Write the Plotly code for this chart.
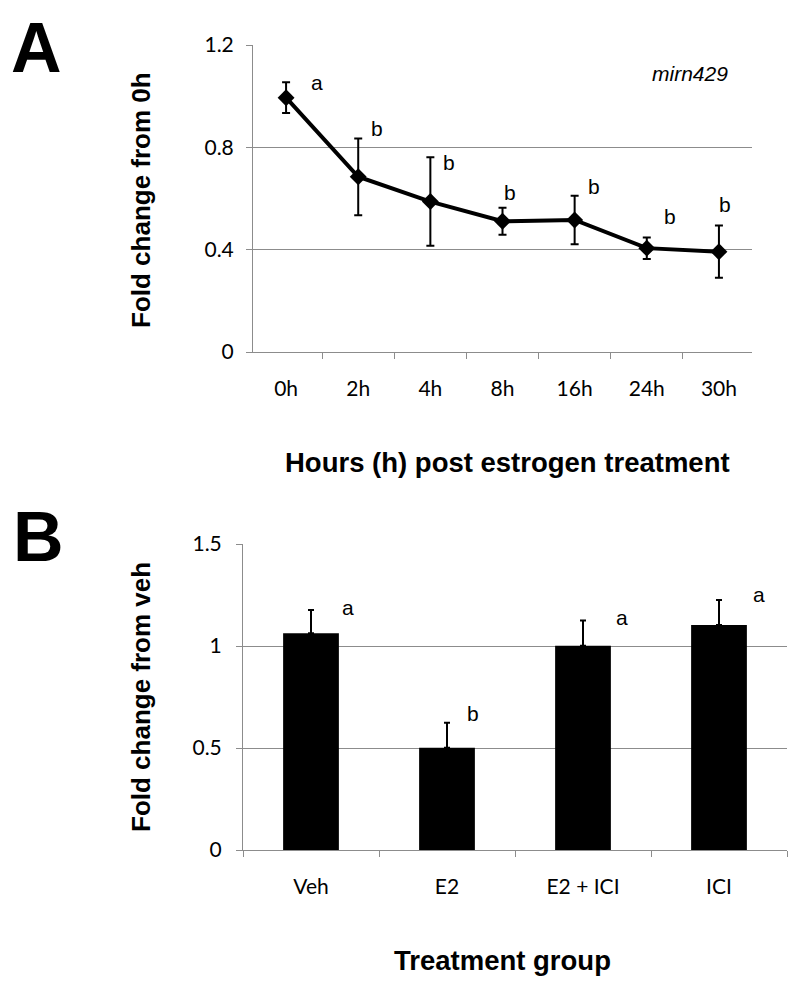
import plotly.graph_objects as go

# ---------------- data ----------------
hours = ["0h", "2h", "4h", "8h", "16h", "24h", "30h"]
fold_a = [0.994, 0.685, 0.588, 0.511, 0.516, 0.406, 0.392]
err_a = [0.060, 0.150, 0.173, 0.053, 0.095, 0.042, 0.102]
letters_a = ["a", "b", "b", "b", "b", "b", "b"]

groups = ["Veh", "E2", "E2 + ICI", "ICI"]
fold_b = [1.062, 0.501, 1.001, 1.103]
err_b = [0.114, 0.123, 0.124, 0.122]
letters_b = ["a", "b", "a", "a"]

# ---------------- styling ----------------
W, H = 800, 986
OFF = 8  # page body margin that the browser adds around the plot div
GRID = "#8c8c8c"
TICKFONT = dict(family="Lato, Open Sans, sans-serif", size=21, color="black")
LETTERFONT = dict(family="Liberation Sans, Arial, sans-serif", size=21, color="black")
TITLEFONT_Y = dict(family="Liberation Sans, Arial, sans-serif", size=26, color="black")
TITLEFONT_X = dict(family="Liberation Sans, Arial, sans-serif", size=27.5, color="black")
PANELFONT = dict(family="Liberation Sans, Arial, sans-serif", size=70, color="black")

def px(x):
    return (x - OFF) / W

def py(y):
    return 1 - (y - OFF) / H

# letter offsets (pixels) relative to error-bar top
shift_a = [(31, 0), (19, 10), (19, -5), (7, 15), (19, 9), (23, 21), (6, 21)]
shift_b = [(37, 3), (26, 9), (39, 3), (40, 6)]

fig = go.Figure()

fig.add_trace(go.Scatter(
    x=hours, y=fold_a, mode="lines+markers",
    line=dict(color="black", width=4),
    marker=dict(symbol="diamond", size=13, color="black"),
    error_y=dict(type="data", array=err_a, visible=True, color="black",
                 thickness=2, width=4),
    xaxis="x", yaxis="y", showlegend=False,
))

fig.add_trace(go.Bar(
    x=groups, y=fold_b, width=0.41,
    marker=dict(color="black", line=dict(width=0)),
    error_y=dict(type="data", array=err_b, arrayminus=[0] * len(err_b),
                 symmetric=False, visible=True, color="black",
                 thickness=2, width=3),
    xaxis="x2", yaxis="y2", showlegend=False,
))

axis_common = dict(
    showline=True, linecolor=GRID, linewidth=1,
    ticks="outside", tickcolor=GRID, ticklen=6, tickwidth=1,
    tickfont=TICKFONT, zeroline=False, automargin=False,
)

fig.update_layout(
    template="none",
    width=W, height=H,
    margin=dict(l=0, r=0, t=0, b=0, pad=0),
    paper_bgcolor="white", plot_bgcolor="white",
    bargap=0.59,
    xaxis=dict(domain=[px(253), px(752)], anchor="y", type="category",
               tickson="boundaries", showgrid=False, ticklabelstandoff=18,
               **axis_common),
    yaxis=dict(domain=[py(352), py(45)], anchor="x", range=[0, 1.2],
               dtick=0.4, tick0=0, showgrid=True, gridcolor=GRID, gridwidth=1,
               ticklabelstandoff=8, **axis_common),
    xaxis2=dict(domain=[px(243), px(787)], anchor="y2", type="category",
                tickson="boundaries", showgrid=False, ticklabelstandoff=18,
                **axis_common),
    yaxis2=dict(domain=[py(850), py(544)], anchor="x2", range=[0, 1.5],
                dtick=0.5, tick0=0, showgrid=True, gridcolor=GRID, gridwidth=1,
                ticklabelstandoff=10, **axis_common),
)

ann = []
for cat, v, e, lab, (dx, dy) in zip(hours, fold_a, err_a, letters_a, shift_a):
    ann.append(dict(x=cat, y=v + e, xref="x", yref="y", text=lab,
                    showarrow=False, xshift=dx, yshift=dy, font=LETTERFONT,
                    xanchor="center", yanchor="middle"))
for cat, v, e, lab, (dx, dy) in zip(groups, fold_b, err_b, letters_b, shift_b):
    ann.append(dict(x=cat, y=v + e, xref="x2", yref="y2", text=lab,
                    showarrow=False, xshift=dx, yshift=dy, font=LETTERFONT,
                    xanchor="center", yanchor="middle"))

ann += [
    dict(x=px(730), y=py(73), xref="paper", yref="paper", text="<i>mirn429</i>",
         showarrow=False, xanchor="right", yanchor="middle", font=LETTERFONT),
    dict(x=px(37), y=py(48), xref="paper", yref="paper", text="<b>A</b>",
         showarrow=False, xanchor="center", yanchor="middle",
         font=PANELFONT),
    dict(x=px(38), y=py(537), xref="paper", yref="paper", text="<b>B</b>",
         showarrow=False, xanchor="center", yanchor="middle",
         font=PANELFONT),
    dict(x=px(141), y=py(200), xref="paper", yref="paper",
         text="<b>Fold change from 0h</b>", textangle=-90,
         showarrow=False, xanchor="center", yanchor="middle", font=TITLEFONT_Y),
    dict(x=px(141), y=py(697), xref="paper", yref="paper",
         text="<b>Fold change from veh</b>", textangle=-90,
         showarrow=False, xanchor="center", yanchor="middle", font=TITLEFONT_Y),
    dict(x=px(507), y=py(462), xref="paper", yref="paper",
         text="<b>Hours (h) post estrogen treatment</b>",
         showarrow=False, xanchor="center", yanchor="middle", font=TITLEFONT_X),
    dict(x=px(502), y=py(960), xref="paper", yref="paper",
         text="<b>Treatment group</b>",
         showarrow=False, xanchor="center", yanchor="middle", font=TITLEFONT_X),
]
fig.update_layout(annotations=ann)

fig.write_html("out.html")
